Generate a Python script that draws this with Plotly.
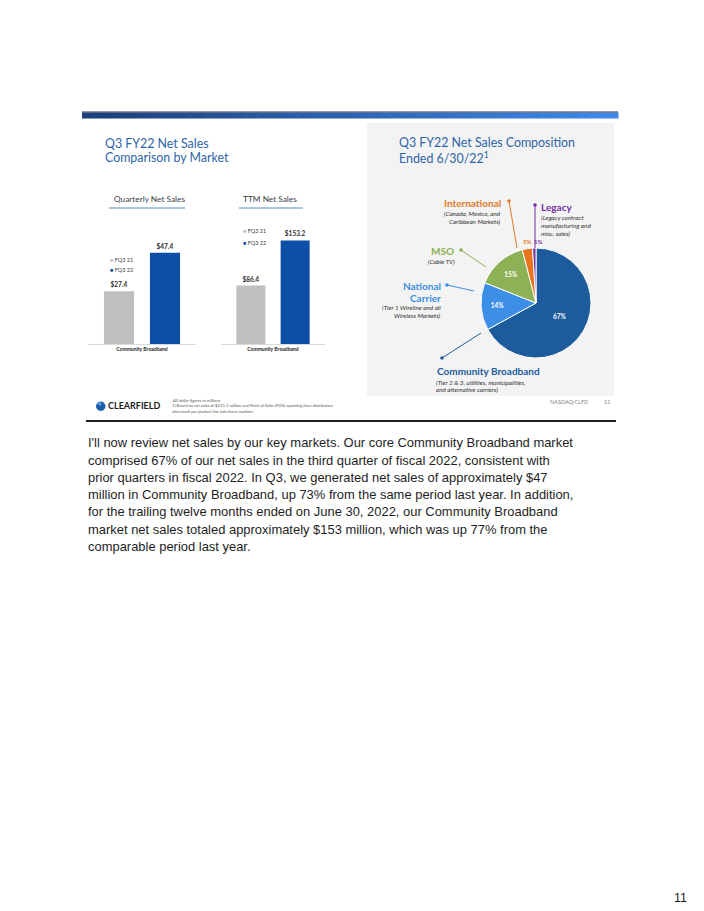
import plotly.graph_objects as go

# page is 704x911; the browser adds an 8px body margin, so the figure is 696x903
W, H = 696, 903
OFF = 8

# ---------------- data ----------------
series_names = ["FQ3 21", "FQ3 22"]
category = ["Community Broadband"]
quarterly_values = [27.4, 47.4]
ttm_values = [86.4, 153.2]

pie_labels = ["Community Broadband", "National Carrier", "MSO", "International", "Legacy"]
pie_values = [67, 14, 15, 3, 1]

paragraph_lines = [
    "I'll now review net sales by our key markets. Our core Community Broadband market",
    "comprised 67% of our net sales in the third quarter of fiscal 2022, consistent with",
    "prior quarters in fiscal 2022. In Q3, we generated net sales of approximately $47",
    "million in Community Broadband, up 73% from the same period last year. In addition,",
    "for the trailing twelve months ended on June 30, 2022, our Community Broadband",
    "market net sales totaled approximately $153 million, which was up 77% from the",
    "comparable period last year.",
]

# ---------------- styles ----------------
bar_colors = ["#bfbfbf", "#0d4ea6"]
pie_colors = ["#1c5b9c", "#3d8ee6", "#8db255", "#e8731c", "#7030a0"]
title_color = "#2e64a8"
SL = "Lato"


def px(x):
    return (x - OFF) / W


def py(y):
    return 1 - (y - OFF) / H


fig = go.Figure()
shapes = []
ann = []

# ---------------- slide decoration ----------------
n = 40
x0, x1 = 82, 618
c0 = (0x1d, 0x3f, 0x7c)
c1 = (0x3d, 0x8a, 0xea)
for i in range(n):
    t = i / (n - 1)
    c = tuple(int(c0[k] + (c1[k] - c0[k]) * t) for k in range(3))
    shapes.append(dict(type="rect", xref="paper", yref="paper",
                       x0=px(x0 + (x1 - x0) * i / n), x1=px(x0 + (x1 - x0) * (i + 1) / n + 0.5),
                       y0=py(118.5), y1=py(112.5), line_width=0,
                       fillcolor="rgb(%d,%d,%d)" % c, layer="below"))
shapes.append(dict(type="line", xref="paper", yref="paper", x0=px(82), x1=px(618),
                   y0=py(112), y1=py(112), line=dict(color="#2a3550", width=1)))
shapes.append(dict(type="rect", xref="paper", yref="paper", x0=px(367), x1=px(614),
                   y0=py(396), y1=py(123), line_width=0, fillcolor="#f3f3f3", layer="below"))
shapes.append(dict(type="line", xref="paper", yref="paper", x0=px(86), x1=px(616),
                   y0=py(421), y1=py(421), line=dict(color="#1e1e1e", width=2)))

# titles
for txt, x, y in [("Q3 FY22 Net Sales", 103, 144), ("Comparison by Market", 103, 158),
                  ("Q3 FY22 Net Sales Composition", 397, 143),
                  ("Ended 6/30/22<sup>1</sup>", 397, 157)]:
    ann.append(dict(text=txt, x=px(x), y=py(y), xref="paper", yref="paper",
                    xanchor="left", yanchor="middle", showarrow=False,
                    font=dict(family=SL, size=12.4, color=title_color)))

# subtitles with underline
for txt, cx, ux0, ux1 in [("Quarterly Net Sales", 149, 109, 185), ("TTM Net Sales", 270, 239, 303)]:
    ann.append(dict(text=txt, x=px(cx), y=py(199), xref="paper", yref="paper",
                    xanchor="center", yanchor="middle", showarrow=False,
                    font=dict(family=SL, size=8.3, color="#404040")))
    shapes.append(dict(type="line", xref="paper", yref="paper", x0=px(ux0), x1=px(ux1),
                       y0=py(208), y1=py(208), line=dict(color="#5b8ac4", width=1)))

# ---------------- bar charts ----------------
for ax_i, vals in [(1, quarterly_values), (2, ttm_values)]:
    xa = "x" if ax_i == 1 else "x2"
    ya = "y" if ax_i == 1 else "y2"
    for s, name in enumerate(series_names):
        fig.add_trace(go.Bar(
            x=category, y=[vals[s]], name=name, xaxis=xa, yaxis=ya,
            marker=dict(color=bar_colors[s], line_width=0),
            texttemplate="$%{y:.1f}", textposition="outside", cliponaxis=False,
            textfont=dict(family=SL, size=6.5, color="#303030", weight="bold"),
            showlegend=False, hoverinfo="skip"))

# legend annotations
for (lx, ly0, ldy) in [(108, 260, 10), (241, 231, 12)]:
    for s, name in enumerate(series_names):
        ann.append(dict(text="<span style='color:%s'>■</span> %s" % (bar_colors[s], name),
                        x=px(lx), y=py(ly0 + ldy * s), xref="paper", yref="paper",
                        xanchor="left", yanchor="middle", showarrow=False,
                        font=dict(family=SL, size=5.5, color="#404040")))

axis_common = dict(showgrid=False, zeroline=False, showline=True, linecolor="#d9d9d9",
                   linewidth=1, ticks="", fixedrange=True,
                   tickfont=dict(family=SL, size=5, color="#202020", weight="bold"))

# ---------------- pie ----------------
pie_text = ["%d%%" % v for v in pie_values]
fig.add_trace(go.Pie(
    labels=pie_labels, values=pie_values, sort=False, direction="clockwise", rotation=0,
    marker=dict(colors=pie_colors, line=dict(color="white", width=1)),
    text=pie_text, textinfo="text",
    textposition=["inside", "inside", "inside", "none", "none"],
    insidetextorientation="horizontal",
    textfont=dict(family=SL, size=6.5, color="white", weight="bold"),
    domain=dict(x=[px(481), px(591)], y=[py(358), py(248)]),
    showlegend=False, hoverinfo="skip"))

for i, x in [(3, 527), (4, 538)]:
    ann.append(dict(text=pie_text[i], x=px(x), y=py(242), xref="paper", yref="paper",
                    xanchor="center", yanchor="middle", showarrow=False,
                    font=dict(family=SL, size=6, color=pie_colors[i], weight="bold")))

label_col = {"Community Broadband": "#1c5b9c", "National Carrier": "#3d8ee6",
             "MSO": "#8db255", "International": "#e07b2a", "Legacy": "#7030a0"}

leaders = [("International", (509, 201), (517, 248)),
           ("Legacy", (535, 205), (535, 248)),
           ("MSO", (461, 250), (486, 267)),
           ("National Carrier", (447, 285), (474, 291)),
           ("Community Broadband", (442, 358), (481, 333))]
for lab, (dx, dy), (ex, ey) in leaders:
    col = label_col[lab]
    shapes.append(dict(type="line", xref="paper", yref="paper", x0=px(dx), y0=py(dy),
                       x1=px(ex), y1=py(ey), line=dict(color=col, width=1)))
    shapes.append(dict(type="circle", xref="paper", yref="paper", x0=px(dx - 1.8), x1=px(dx + 1.8),
                       y0=py(dy + 1.8), y1=py(dy - 1.8), fillcolor=col, line_width=0))


def big(txt, x, y, col, anchor):
    ann.append(dict(text=txt, x=px(x), y=py(y), xref="paper", yref="paper", xanchor=anchor,
                    yanchor="middle", showarrow=False,
                    font=dict(family=SL, size=10, color=col, weight="bold")))


def small(txt, x, y, anchor):
    ann.append(dict(text="<i>%s</i>" % txt, x=px(x), y=py(y), xref="paper", yref="paper",
                    xanchor=anchor, yanchor="middle", showarrow=False,
                    font=dict(family=SL, size=6.3, color="#303030")))


big("International", 503, 203, label_col["International"], "right")
small("(Canada, Mexico, and", 503, 213, "right")
small("Caribbean Markets)", 503, 221, "right")
big("Legacy", 539, 207, label_col["Legacy"], "left")
small("(Legacy contract", 539, 218, "left")
small("manufacturing and", 539, 226, "left")
small("misc. sales)", 539, 234, "left")
big("MSO", 456, 251, label_col["MSO"], "right")
small("(Cable TV)", 457, 261, "right")
big("National", 443, 286, label_col["National Carrier"], "right")
big("Carrier", 443, 298, label_col["National Carrier"], "right")
small("(Tier 1 Wireline and all", 443, 308, "right")
small("Wireless Markets)", 443, 316, "right")
big("Community Broadband", 435, 371, label_col["Community Broadband"], "left")
small("(Tier 2 &amp; 3, utilities, municipalities,", 434, 382, "left")
small("and alternative carriers)", 434, 389, "left")

# footer of slide
ann.append(dict(text="NASDAQ:CLFD", x=px(548), y=py(402), xref="paper", yref="paper",
                xanchor="left", yanchor="middle", showarrow=False,
                font=dict(family=SL, size=5.5, color="#7f7f7f")))
ann.append(dict(text="11", x=px(602), y=py(402), xref="paper", yref="paper",
                xanchor="left", yanchor="middle", showarrow=False,
                font=dict(family=SL, size=5.5, color="#7f7f7f")))
ann.append(dict(text="CLEARFIELD", x=px(106), y=py(406), xref="paper", yref="paper",
                xanchor="left", yanchor="middle", showarrow=False,
                font=dict(family=SL, size=9, color="#1a1a1a", weight="bold")))
shapes.append(dict(type="circle", xref="paper", yref="paper", x0=px(96), x1=px(105.5),
                   y0=py(411), y1=py(401.5), fillcolor="#1b5fae", line_width=0))
shapes.append(dict(type="path", xref="paper", yref="paper",
                   path="M %f %f L %f %f L %f %f Z" % (px(97), py(404), px(101), py(401.5), px(101), py(406)),
                   fillcolor="#5aa2ea", line_width=0))
for txt, y in [("All dollar figures in millions", 400),
               ("1) Based on net sales of $221.1 million and Point of Sales (POS) reporting from distributors", 406),
               ("who resell our product line into these markets.", 411)]:
    ann.append(dict(text="<i>%s</i>" % txt, x=px(170), y=py(y), xref="paper", yref="paper",
                    xanchor="left", yanchor="middle", showarrow=False,
                    font=dict(family=SL, size=4.3, color="#555555")))

# ---------------- paragraph ----------------
for i, line in enumerate(paragraph_lines):
    ann.append(dict(text=line, x=px(86), y=py(443 + 17.2 * i), xref="paper", yref="paper",
                    xanchor="left", yanchor="middle", showarrow=False,
                    font=dict(family="Liberation Sans, Arial", size=12.95, color="#1e1e1e")))

ann.append(dict(text="11", x=px(689), y=py(898), xref="paper", yref="paper",
                xanchor="right", yanchor="middle", showarrow=False,
                font=dict(family="Liberation Sans, Arial", size=12.5, color="#1e1e1e")))

fig.update_layout(
    width=W, height=H, margin=dict(l=0, r=0, t=0, b=0, pad=0),
    paper_bgcolor="white", plot_bgcolor="rgba(0,0,0,0)",
    barmode="group", bargap=0.148, bargroupgap=0.345,
    xaxis=dict(domain=[px(88), px(196)], anchor="y", **axis_common),
    yaxis=dict(domain=[py(344), py(220)], range=[0, 64.5], visible=False, fixedrange=True),
    xaxis2=dict(domain=[px(221), px(325)], anchor="y2", **axis_common),
    yaxis2=dict(domain=[py(344), py(220)], range=[0, 183.4], visible=False, fixedrange=True),
    shapes=shapes, annotations=ann,
)

fig.write_html("out.html")
